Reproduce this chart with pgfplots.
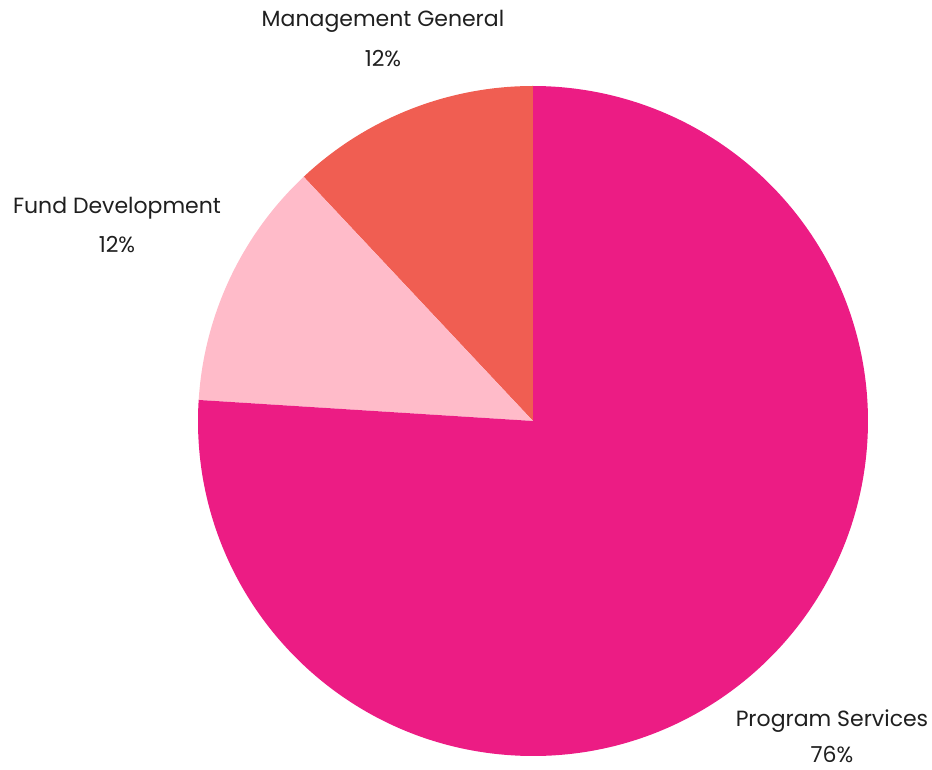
\documentclass[border=0pt]{standalone}
\usepackage{pgfplots}
\pgfplotsset{compat=1.18}
\usepackage{pgfplotstable}
\usepackage{fontspec}
\setmainfont{Poppins}
\definecolor{cProg}{HTML}{EC1C84}
\definecolor{cFund}{HTML}{FFBBC9}
\definecolor{cMgmt}{HTML}{F05E52}
\pgfplotstableread{
label value
Program 76
Fund 12
Mgmt 12
}\piedata
\begin{document}
\begin{tikzpicture}
\pgfplotstablegetelem{0}{value}\of\piedata \pgfmathsetmacro{\vProg}{\pgfplotsretval}
\pgfplotstablegetelem{1}{value}\of\piedata \pgfmathsetmacro{\vFund}{\pgfplotsretval}
\pgfplotstablegetelem{2}{value}\of\piedata \pgfmathsetmacro{\vMgmt}{\pgfplotsretval}
\pgfmathsetmacro{\aA}{90}
\pgfmathsetmacro{\aB}{90+3.6*\vMgmt}
\pgfmathsetmacro{\aC}{\aB+3.6*\vFund}
\pgfmathsetmacro{\aD}{\aC+3.6*\vProg}
\begin{axis}[
  scale only axis, width=670pt, height=670pt,
  xmin=-335, xmax=335, ymin=-335, ymax=335,
  hide axis, clip=false,
]
\path (axis cs:-533,-348) rectangle (axis cs:399,421);
\fill[cMgmt] (axis cs:0,0) -- (axis cs:{335*cos(\aA)},{335*sin(\aA)}) arc[start angle=\aA, end angle=\aB, radius=335] -- cycle;
\fill[cFund] (axis cs:0,0) -- (axis cs:{335*cos(\aB)},{335*sin(\aB)}) arc[start angle=\aB, end angle=\aC, radius=335] -- cycle;
\fill[cProg] (axis cs:0,0) -- (axis cs:{335*cos(\aC)},{335*sin(\aC)}) arc[start angle=\aC, end angle=\aD, radius=335] -- cycle;
\begin{scope}[every node/.style={font=\fontsize{22}{26}\selectfont, text=black!88, inner sep=0pt}]
\node at (axis cs:-150,400) {Management General};
\node at (axis cs:-150,362) {12\%};
\node at (axis cs:-416,213) {Fund Development};
\node at (axis cs:-416,176) {12\%};
\node at (axis cs:299,-300) {Program Services};
\node at (axis cs:299,-334) {76\%};
\end{scope}
\end{axis}
\end{tikzpicture}
\end{document}
